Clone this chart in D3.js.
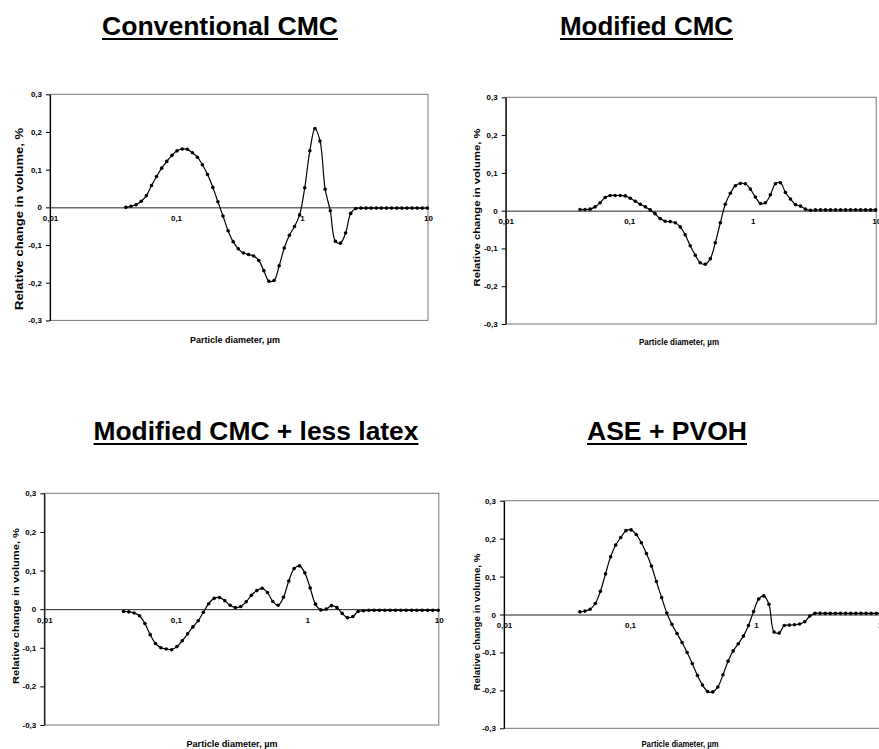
<!DOCTYPE html>
<html>
<head>
<meta charset="utf-8">
<script src="https://cdn.jsdelivr.net/npm/d3@7"></script>
<style>
  body { margin: 0; background: #fff; }
  svg text { font-family: "Liberation Sans", Arial, sans-serif; }
</style>
</head>
<body>
<svg id="chart" width="879" height="749"></svg>
<script>
// particle diameter channels, µm
var diameters = [0.04, 0.0439, 0.0482, 0.053, 0.0582, 0.0639, 0.0701, 0.077, 0.0845, 0.0928,
                 0.102, 0.112, 0.123, 0.135, 0.148, 0.162, 0.178, 0.196, 0.215, 0.236,
                 0.259, 0.284, 0.312, 0.343, 0.376, 0.413, 0.454, 0.498, 0.547, 0.6,
                 0.659, 0.723, 0.794, 0.872, 0.957, 1.051, 1.154, 1.267, 1.391, 1.527,
                 1.677, 1.841, 2.021, 2.219, 2.436, 2.675, 2.937, 3.224, 3.54, 3.887,
                 4.267, 4.685, 5.144, 5.648, 6.201, 6.808, 7.475, 8.207, 9.011, 9.893]

var conventionalCMC = [0, 0.003, 0.007, 0.016, 0.031, 0.058, 0.082, 0.104, 0.122, 0.138,
                       0.15, 0.155, 0.154, 0.145, 0.133, 0.113, 0.087, 0.053, 0.015, -0.023,
                       -0.062, -0.091, -0.11, -0.121, -0.125, -0.129, -0.141, -0.168, -0.196, -0.194,
                       -0.155, -0.108, -0.074, -0.051, -0.02, 0.052, 0.15, 0.209, 0.176, 0.048,
                       -0.009, -0.09, -0.095, -0.068, -0.016, -0.003, -0.002, -0.002, -0.002, -0.002,
                       -0.002, -0.002, -0.002, -0.002, -0.002, -0.002, -0.002, -0.002, -0.002, -0.002]

var modifiedCMC = [0.003, 0.003, 0.004, 0.01, 0.021, 0.035, 0.04, 0.04, 0.04, 0.039,
                   0.033, 0.025, 0.017, 0.01, 0.002, -0.008, -0.021, -0.028, -0.029, -0.032,
                   -0.043, -0.064, -0.093, -0.118, -0.138, -0.142, -0.127, -0.085, -0.032, 0.017,
                   0.046, 0.066, 0.072, 0.071, 0.057, 0.036, 0.019, 0.021, 0.042, 0.071,
                   0.074, 0.048, 0.031, 0.016, 0.012, 0.004, 0.001, 0.002, 0.002, 0.002,
                   0.002, 0.002, 0.002, 0.002, 0.002, 0.002, 0.002, 0.002, 0.002, 0.002]

var lessLatex = [-0.006, -0.007, -0.01, -0.017, -0.037, -0.066, -0.089, -0.1, -0.103, -0.105,
                 -0.097, -0.082, -0.064, -0.046, -0.03, -0.008, 0.014, 0.028, 0.03, 0.022,
                 0.01, 0.004, 0.007, 0.019, 0.036, 0.048, 0.054, 0.043, 0.02, 0.01,
                 0.031, 0.073, 0.105, 0.112, 0.094, 0.055, 0.013, -0.002, 0, 0.009,
                 0.004, -0.011, -0.022, -0.019, -0.006, -0.004, -0.003, -0.003, -0.003, -0.003,
                 -0.003, -0.003, -0.003, -0.003, -0.003, -0.003, -0.003, -0.003, -0.003, -0.003]

var asePVOH = [0.007, 0.009, 0.014, 0.029, 0.061, 0.107, 0.152, 0.183, 0.203, 0.221,
               0.223, 0.211, 0.189, 0.161, 0.128, 0.087, 0.045, 0.004, -0.026, -0.05,
               -0.074, -0.1, -0.129, -0.161, -0.186, -0.203, -0.204, -0.191, -0.159, -0.123,
               -0.096, -0.077, -0.057, -0.029, 0.008, 0.041, 0.049, 0.027, -0.046, -0.049,
               -0.029, -0.028, -0.027, -0.025, -0.019, -0.004, 0.003, 0.003, 0.003, 0.003,
               0.003, 0.003, 0.003, 0.003, 0.003, 0.003, 0.003, 0.003, 0.003, 0.003]

var titles = ["Conventional CMC", "Modified CMC", "Modified CMC + less latex", "ASE + PVOH"]
var yTicks = [-0.3, -0.2, -0.1, 0, 0.1, 0.2, 0.3]
var yTickLabels = ["-0,3", "-0,2", "-0,1", "0", "0,1", "0,2", "0,3"]
var xTicks = [0.01, 0.1, 1, 10]
var xTickLabels = ["0,01", "0,1", "1", "10"]
var yTitle = "Relative change in volume, %"
var xTitle = "Particle diameter, µm"

var series = [conventionalCMC, modifiedCMC, lessLatex, asePVOH]

// where each little chart sits on the page
var panels = [
    {left: 50, right: 428, top: 94.3, bottom: 320.4, titleX: 220, titleY: 35, titleW: 236,
     yLabX: 23, yLabY: 219, yLabW: 182, yLabSize: 10.5, xLabX: 235, xLabY: 343, xLabW: 90},
    {left: 505.7, right: 876.2, top: 97.3, bottom: 324, titleX: 646.5, titleY: 35, titleW: 173,
     yLabX: 480, yLabY: 207.5, yLabW: 158, yLabSize: 9.5, xLabX: 679, xLabY: 345, xLabW: 80},
    {left: 44.3, right: 438.8, top: 493.3, bottom: 725, titleX: 256, titleY: 440, titleW: 325,
     yLabX: 18.5, yLabY: 606, yLabW: 156, yLabSize: 9.5, xLabX: 232, xLabY: 747, xLabW: 91},
    {left: 504, right: 882, top: 500.7, bottom: 728.3, titleX: 667, titleY: 440, titleW: 160,
     yLabX: 480, yLabY: 622, yLabW: 137, yLabSize: 9, xLabX: 680, xLabY: 747, xLabW: 77}
]

var svg = d3.select("#chart")

svg.append("rect").attr("width", 879).attr("height", 749).attr("fill", "#fff")

panels.forEach(function (p, k) {
    var values = series[k]
    var data = diameters.map(function (d, i) { return {x: d, y: values[i]} })

    var xScale = d3.scaleLog().domain([0.01, 10]).range([p.left, p.right])
    var yScale = d3.scaleLinear().domain([-0.3, 0.3]).range([p.bottom, p.top])

    var g = svg.append("g")

    // title with underline
    g.append("text")
        .attr("x", p.titleX)
        .attr("y", p.titleY)
        .attr("text-anchor", "middle")
        .attr("font-size", 26)
        .attr("font-weight", "bold")
        .attr("textLength", p.titleW)
        .attr("lengthAdjust", "spacingAndGlyphs")
        .text(titles[k])
    g.append("line")
        .attr("x1", p.titleX - p.titleW / 2).attr("x2", p.titleX + p.titleW / 2)
        .attr("y1", p.titleY + 4).attr("y2", p.titleY + 4)
        .attr("stroke", "#000").attr("stroke-width", 2)

    // plot frame
    g.append("rect")
        .attr("x", p.left).attr("y", p.top)
        .attr("width", p.right - p.left).attr("height", p.bottom - p.top)
        .attr("fill", "none").attr("stroke", "#777").attr("stroke-width", 1)

    // y axis
    var yAxis = d3.axisLeft(yScale)
        .tickValues(yTicks)
        .tickFormat(function (d, i) { return yTickLabels[i] })
        .tickSize(4).tickSizeOuter(0).tickPadding(4)
    var ya = g.append("g")
        .attr("transform", "translate(" + p.left + ",0)")
        .call(yAxis)
    ya.select(".domain").attr("stroke", "#000").attr("stroke-width", 1.2)
    ya.selectAll("text")
        .attr("font-size", 8).attr("font-weight", "bold")
        .attr("font-family", "Liberation Sans, Arial, sans-serif")

    // x axis drawn along the zero line
    var xAxis = d3.axisBottom(xScale)
        .tickValues(xTicks)
        .tickFormat(function (d, i) { return xTickLabels[i] })
        .tickSize(0).tickPadding(8)
    var xa = g.append("g")
        .attr("transform", "translate(0," + yScale(0) + ")")
        .call(xAxis)
    xa.select(".domain").attr("stroke", "#222").attr("stroke-width", 1)
    xa.selectAll("text")
        .attr("font-size", 8).attr("font-weight", "bold")
        .attr("font-family", "Liberation Sans, Arial, sans-serif")

    // axis titles
    g.append("text")
        .attr("transform", "translate(" + p.yLabX + "," + p.yLabY + ") rotate(-90)")
        .attr("text-anchor", "middle")
        .attr("font-size", p.yLabSize)
        .attr("font-weight", "bold")
        .attr("textLength", p.yLabW)
        .attr("lengthAdjust", "spacingAndGlyphs")
        .text(yTitle)
    g.append("text")
        .attr("x", p.xLabX).attr("y", p.xLabY)
        .attr("text-anchor", "middle")
        .attr("font-size", 9)
        .attr("font-weight", "bold")
        .attr("textLength", p.xLabW)
        .attr("lengthAdjust", "spacingAndGlyphs")
        .text(xTitle)

    // the curve and its points
    var line = d3.line()
        .x(function (d) { return xScale(d.x) })
        .y(function (d) { return yScale(d.y) })
        .curve(d3.curveCatmullRom.alpha(0.5))
    g.append("path")
        .datum(data)
        .attr("d", line)
        .attr("fill", "none")
        .attr("stroke", "#000")
        .attr("stroke-width", 1.2)
    g.selectAll("circle")
        .data(data)
        .enter()
        .append("circle")
        .attr("cx", function (d) { return xScale(d.x) })
        .attr("cy", function (d) { return yScale(d.y) })
        .attr("r", 1.8)
        .attr("fill", "#000")
})
</script>
</body>
</html>
